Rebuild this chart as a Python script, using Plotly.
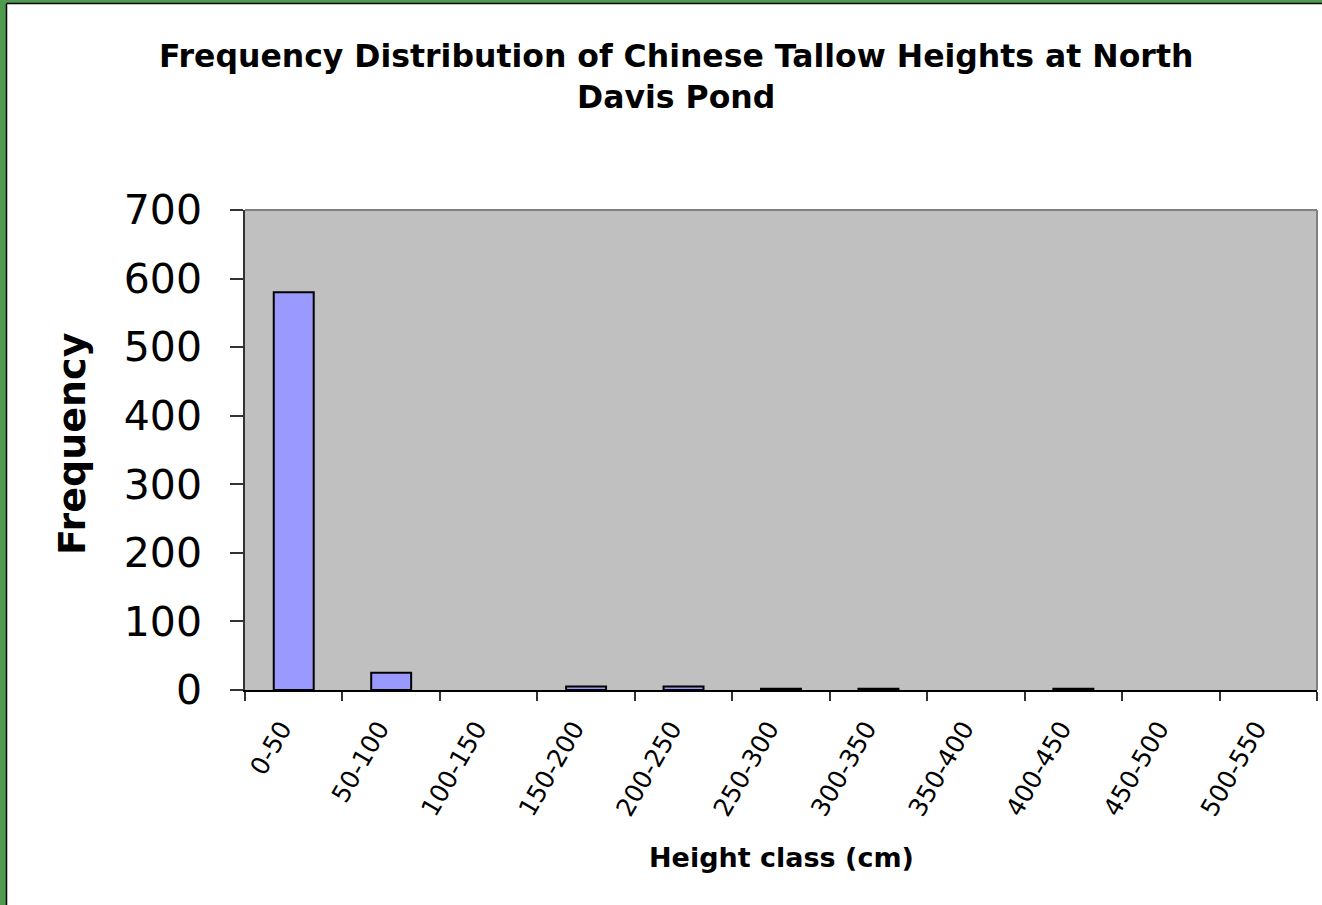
import plotly.graph_objects as go

# Height classes (cm) and number of trees in each class
height_classes = ["0-50", "50-100", "100-150", "150-200", "200-250", "250-300",
                  "300-350", "350-400", "400-450", "450-500", "500-550"]
frequency = [580, 25, 0, 5, 5, 2, 2, 0, 2, 0, 0]
y_ticks = [0, 100, 200, 300, 400, 500, 600, 700]

W, H = 1322, 905
L, R, T, B = 245, 1317, 210, 690  # plot area edges in pixels


def px_x(p):
    return (p - L) / (R - L)


def px_y(p):
    return (B - p) / (B - T)


FONT = "DejaVu Sans"

# empty classes get no outline so nothing is drawn for them
outline_widths = [2 if v > 0 else 0 for v in frequency]

fig = go.Figure()
fig.add_trace(go.Bar(
    x=height_classes,
    y=frequency,
    width=0.41,
    marker=dict(color="#9999FF", line=dict(color="black", width=outline_widths)),
))

shapes = [
    # green frame on the left and top edges
    dict(type="rect", xref="paper", yref="paper", x0=px_x(0), x1=px_x(6),
         y0=px_y(H), y1=px_y(0), fillcolor="#4E9A4E", line=dict(width=0), layer="above"),
    dict(type="rect", xref="paper", yref="paper", x0=px_x(0), x1=px_x(W),
         y0=px_y(3), y1=px_y(0), fillcolor="#4E9A4E", line=dict(width=0), layer="above"),
    dict(type="line", xref="paper", yref="paper", x0=px_x(6.5), x1=px_x(6.5),
         y0=px_y(H), y1=px_y(3.5), line=dict(color="black", width=1.5), layer="above"),
    dict(type="line", xref="paper", yref="paper", x0=px_x(6.5), x1=px_x(W),
         y0=px_y(3.5), y1=px_y(3.5), line=dict(color="black", width=1.5), layer="above"),
    # plot area border (top and right)
    dict(type="line", xref="paper", yref="paper", x0=0, x1=1, y0=1, y1=1,
         line=dict(color="#808080", width=2), layer="above"),
    dict(type="line", xref="paper", yref="paper", x0=1, x1=1, y0=0, y1=1,
         line=dict(color="#808080", width=2), layer="above"),
]

annotations = [
    dict(text="<b>Frequency Distribution of Chinese Tallow Heights at North<br>Davis Pond</b>",
         xref="paper", yref="paper", x=px_x(676), y=px_y(76), xanchor="center", yanchor="middle",
         showarrow=False, font=dict(family=FONT, size=31.5, color="black")),
    dict(text="<b>Frequency</b>", textangle=-90,
         xref="paper", yref="paper", x=px_x(72), y=px_y(444), xanchor="center", yanchor="middle",
         showarrow=False, font=dict(family=FONT, size=38, color="black")),
    dict(text="<b>Height class (cm)</b>",
         xref="paper", yref="paper", x=px_x(781), y=px_y(857), xanchor="center", yanchor="middle",
         showarrow=False, font=dict(family=FONT, size=27, color="black")),
]

fig.update_layout(
    width=W, height=H,
    margin=dict(l=L, r=W - R, t=T, b=H - B, pad=0),
    paper_bgcolor="white",
    plot_bgcolor="#C0C0C0",
    showlegend=False,
    shapes=shapes,
    annotations=annotations,
)
fig.update_xaxes(
    type="category",
    tickson="boundaries",
    ticks="outside", ticklen=9, tickwidth=1.5, tickcolor="#333333",
    tickangle=-60,
    ticklabelstandoff=12,
    ticklabelshift=-12,
    tickfont=dict(family=FONT, size=25, color="black"),
    showline=True, linecolor="black", linewidth=2,
    showgrid=False, zeroline=False,
)
fig.update_yaxes(
    range=[0, 700],
    tickvals=y_ticks,
    ticks="outside", ticklen=13, tickwidth=1.5, tickcolor="#333333",
    ticklabelstandoff=20,
    tickfont=dict(family=FONT, size=41, color="black"),
    showline=True, linecolor="#333333", linewidth=1.5,
    showgrid=False, zeroline=False,
)

fig.write_html("out.html")
